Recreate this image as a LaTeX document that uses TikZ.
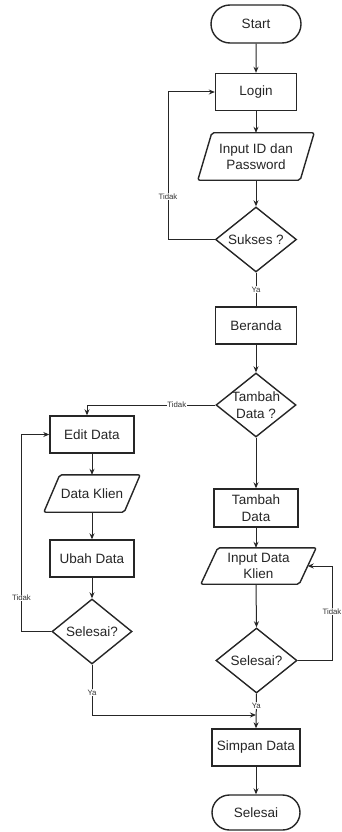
\documentclass[tikz,border=0pt]{standalone}
\usepackage{fontspec}
\setmainfont{Liberation Sans}
\usetikzlibrary{shapes.geometric,shapes.misc,arrows.meta}

\tikzset{
  ink/.style={draw=black!85, line width=1.4pt},
  txt/.style={text=black!85, font=\fontsize{13.5}{16.5}\selectfont, align=center},
  procbox/.style={ink, txt, rectangle, inner sep=0pt, minimum height=37pt},
  termbox/.style={ink, txt, rounded rectangle, inner sep=0pt, minimum width=88pt, minimum height=36pt},
  iobox/.style={txt, rectangle, inner sep=0pt},
  decbox/.style={ink, diamond, inner sep=0pt, minimum width=81pt, minimum height=65pt},
  dectext/.style={txt, inner sep=0pt},
  conn/.style={draw=black!85, line width=1pt},
  arr/.style={conn, -{Stealth[length=6pt,width=5pt]}},
  lbl/.style={fill=white, inner sep=0.6pt, text=black!80, font=\fontsize{7.8}{8}\selectfont},
}

% parallelogram outline around an invisible rectangle node: #1 node, #2 slant
\newcommand{\ioshape}[2]{%
  \draw[ink, rounded corners=2pt] ([xshift=#2]#1.north west) -- (#1.north east)
    -- ([xshift=-#2]#1.south east) -- (#1.south west) -- cycle;}

\begin{document}
\begin{tikzpicture}[x=1pt,y=-1pt]
  \fill[white] (0,0) rectangle (342,832);
  \useasboundingbox (0,0) rectangle (342,832);

  % main column
  \node[termbox, minimum width=90pt, minimum height=38pt] (start) at (256,24) {Start};
  \node[procbox, minimum width=81pt] (login) at (256,92) {Login};
  \node[iobox, minimum width=116pt, minimum height=47pt] (inid) at (256,156.5) {Input ID dan\\Password};
  \ioshape{inid}{14pt}
  \node[decbox, label={[dectext]center:Sukses ?}] (sukses) at (256,239.5) {};
  \node[procbox, minimum width=81pt] (beranda) at (256,325.5) {Beranda};
  \node[decbox, minimum width=80pt, minimum height=64pt,
        label={[dectext]center:{Tambah\\Data ?}}] (tambahq) at (256,405) {};

  % left branch
  \node[procbox, minimum width=84pt] (edit) at (92,434.5) {Edit Data};
  \node[iobox, minimum width=96pt, minimum height=37pt] (klien) at (92,493.5) {Data Klien};
  \ioshape{klien}{16pt}
  \node[procbox, minimum width=84pt] (ubah) at (92,558.5) {Ubah Data};
  \node[decbox, minimum width=80pt, label={[dectext]center:Selesai?}] (sel1) at (92,631.5) {};

  % right branch
  \node[procbox, minimum width=84pt, minimum height=38pt] (tambah) at (256,508) {Tambah\\Data};
  \node[iobox, minimum width=115pt, minimum height=36pt] (inklien) at (258.5,566) {Input Data\\Klien};
  \ioshape{inklien}{17pt}
  \node[decbox, label={[dectext]center:Selesai?}] (sel2) at (256.5,660.5) {};

  % end
  \node[procbox, minimum width=88pt] (simpan) at (256,747.5) {Simpan Data};
  \node[termbox, minimum height=35pt] (selesai) at (256,812.5) {Selesai};

  % helper points for the loops and the merge
  \coordinate (xa) at (168,0);
  \coordinate (xb) at (87,0);
  \coordinate (xc) at (21.5,0);
  \coordinate (xd) at (332,0);
  \coordinate (merge) at (256,715);
  \coordinate (inright) at ([xshift=-8.5pt]inklien.east);

  % connectors
  \draw[arr] (start) -- (login);
  \draw[arr] (login) -- (inid);
  \draw[arr] (inid) -- (sukses);
  \draw[conn] (sukses.south) -- node[lbl, pos=0.5] {Ya} (beranda.north);
  \draw[arr] (sukses.west) -- (sukses.west -| xa)
    -- node[lbl, pos=0.29] {Tidak} (login.west -| xa) -- (login.west);
  \draw[arr] (beranda) -- (tambahq);
  \draw[arr] (tambahq.west) -- node[lbl, pos=0.3] {Tidak} (tambahq.west -| xb)
    -- (edit.north -| xb);
  \draw[arr] (tambahq.south) -- (tambah.north);

  \draw[arr] (edit) -- (klien);
  \draw[arr] (klien) -- (ubah);
  \draw[arr] (ubah) -- (sel1);
  \draw[arr] (sel1.west) -- (sel1.west -| xc)
    -- node[lbl, pos=0.17] {Tidak} (edit.west -| xc) -- (edit.west);
  \draw[arr] (sel1.south) -- node[lbl, pos=0.55] {Ya} (sel1.south |- merge) -- (merge);

  \draw[arr] (tambah.south) -- (tambah.south |- inklien.north);
  \draw[arr] (tambah.south |- inklien.south) -- (sel2.north);
  \draw[arr] (sel2.east) -- (sel2.east -| xd)
    -- node[lbl, pos=0.52] {Tidak} (inright -| xd) -- (inright);
  \draw[arr] (sel2.south) -- node[lbl, pos=0.35] {Ya} (simpan.north);

  \draw[arr] (simpan) -- (selesai);
\end{tikzpicture}
\end{document}
